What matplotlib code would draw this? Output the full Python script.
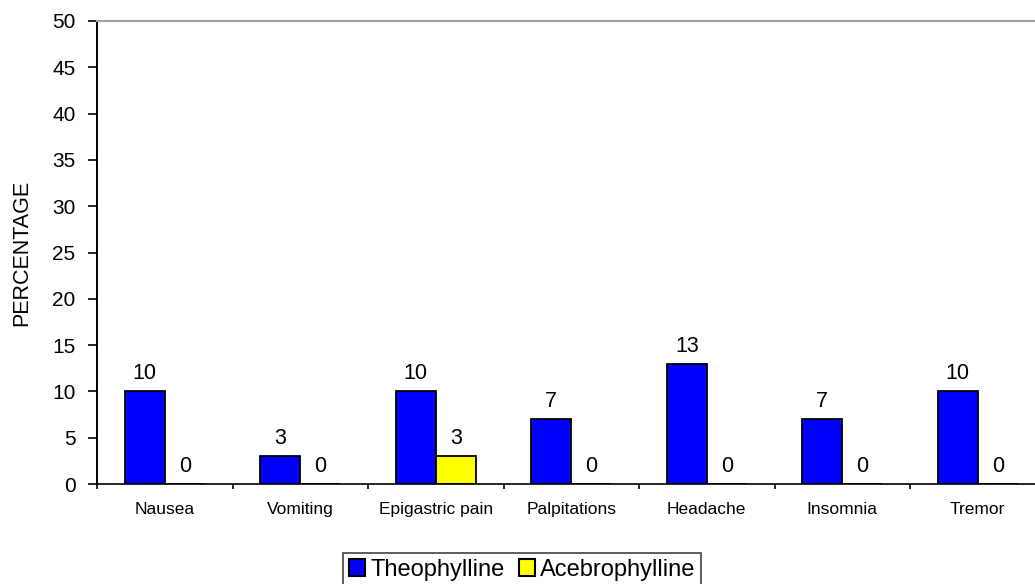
import numpy as np
import matplotlib
matplotlib.use("Agg")
from matplotlib import pyplot as plt
from matplotlib.patches import Patch

plt.rcParams['font.family'] = ['Liberation Sans', 'DejaVu Sans']

# side effects and percentage of patients in each group
symptoms = ["Nausea", "Vomiting", "Epigastric pain", "Palpitations",
            "Headache", "Insomnia", "Tremor"]
theophylline = [10, 3, 10, 7, 13, 7, 10]
acebrophylline = [0, 0, 3, 0, 0, 0, 0]
y_ticks = [0, 5, 10, 15, 20, 25, 30, 35, 40, 45, 50]

fig = plt.figure(figsize=(10.35, 5.84), dpi=100)
# plot area runs a little past the right edge of the figure
ax = fig.add_axes([97 / 1035, 1 - 484 / 584, 7 * 135.5 / 1035, 463 / 584])

x = np.arange(len(symptoms))
w = 0.295
b1 = ax.bar(x - w / 2, theophylline, w, color="#0000ff", edgecolor="black", linewidth=1.3)
b2 = ax.bar(x + w / 2, acebrophylline, w, color="#ffff00", edgecolor="black", linewidth=1.3)

# value labels above every bar
for bars, vals in [(b1, theophylline), (b2, acebrophylline)]:
    for bar, v in zip(bars, vals):
        ax.annotate(str(v), (bar.get_x() + bar.get_width() / 2, v),
                    xytext=(0, 8.6), textcoords="offset points",
                    ha="center", va="baseline", fontsize=15.5)

ax.set_xlim(-0.5, len(symptoms) - 0.5)
ax.set_ylim(0, 50)
ax.set_yticks(y_ticks)
ax.tick_params(axis="y", length=6.5, width=1.2, pad=9, labelsize=15)

# category names at the centres, small ticks between the categories
ax.set_xticks(x)
ax.set_xticklabels(symptoms, fontsize=12.5)
ax.tick_params(axis="x", which="major", length=0, pad=13)
ax.set_xticks(np.arange(len(symptoms) + 1) - 0.5, minor=True)
ax.tick_params(axis="x", which="minor", length=3.5, width=1.2, direction="out")

ax.spines["left"].set_linewidth(1.4)
ax.spines["bottom"].set_linewidth(1.2)
ax.spines["top"].set_color("#a0a0a0")
ax.spines["top"].set_linewidth(1.5)
ax.spines["right"].set_visible(False)

ax.set_ylabel("PERCENTAGE", fontsize=15.5)
ax.yaxis.set_label_coords(-0.068, 0.5)

handles = [Patch(facecolor="#0000ff", edgecolor="black", linewidth=1.5, label="Theophylline"),
           Patch(facecolor="#ffff00", edgecolor="black", linewidth=1.5, label="Acebrophylline")]
leg = fig.legend(handles=handles, loc="upper left", bbox_to_anchor=(343 / 1035, 1 - 553 / 584),
                 ncol=2, fontsize=17, frameon=True, fancybox=False,
                 handlelength=0.7, handleheight=0.7, handletextpad=0.2,
                 columnspacing=0.6, borderpad=0.25, borderaxespad=0)
leg.get_frame().set_edgecolor("#333333")
leg.get_frame().set_linewidth(1.4)

fig.savefig("out.png", dpi=100)
